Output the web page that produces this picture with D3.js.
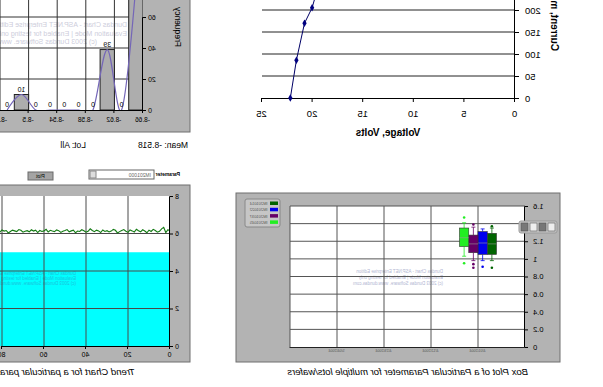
<!DOCTYPE html>
<html>
<head>
<meta charset="utf-8">
<script src="https://cdn.jsdelivr.net/npm/d3@7"></script>
<style>
  body { margin: 0; background: #fff; }
  svg { display: block; }
  text { font-family: "Liberation Sans", Arial, sans-serif; }
</style>
</head>
<body>
<svg id="chart" width="603" height="387"></svg>
<script>
// ---- histogram (top right, mirrored) ----
const histBinStart = [-8.66, -8.64, -8.62, -8.60, -8.58, -8.56, -8.54, -8.52, -8.50, -8.48];
const histCounts = [80, 0, 39, 0, 0, 0, 0, 0, 10, 0];
const histXTicks = [-8.66, -8.62, -8.58, -8.54, -8.5, -8.46];
const histYTicks = [0, 20, 40, 60];
const histMean = 'Mean: -8.518';
const histLot = 'Lot: All';

// ---- IV curve ----
const ivVolts = [22.2, 21.6, 20.8, 20.05, 19.3];
const ivCurrent = [0, 86, 170, 205, 265];
const ivXTicks = [0, 5, 10, 15, 20, 25];
const ivYTicks = [0, 50, 100, 150, 200, 250, 300];

// ---- trend chart ----
const trendValues = [6.14, 6.20, 6.05, 6.33, 6.25, 6.12, 6.07, 6.16, 6.22, 6.11, 6.18, 6.04, 6.13, 6.20, 6.09,
  6.15, 6.23, 6.08, 6.14, 6.19, 6.06, 6.12, 6.21, 6.16, 6.10, 6.03, 6.17, 6.22, 6.13, 6.08, 6.15, 6.11,
  6.19, 6.05, 6.14, 6.18, 6.10, 6.16, 6.25, 6.12, 6.07, 6.15, 6.20, 6.11, 6.13, 6.04, 6.18, 6.14, 6.09,
  6.21, 6.16, 6.12, 6.06, 6.15, 6.19, 6.10, 6.13, 6.17, 6.08, 6.22, 6.14, 6.11, 6.16, 6.05, 6.18, 6.13,
  6.20, 6.09, 6.15, 6.12, 6.07, 6.17, 6.21, 6.10, 6.14, 6.18, 6.11, 6.03, 6.16, 6.13, 6.19, 6.08, 6.15,
  6.12, 6.20, 6.10, 6.17, 6.06, 6.14, 6.18];
const trendLimit = 5;
const trendXTicks = [0, 20, 40, 60, 80];
const trendYTicks = [0, 2, 4, 6, 8];

// ---- box plot ----
const boxLots = ['IM201014', 'IM201022', 'IM201037', 'IM201045'];
const boxColors = ['#006400', '#0000ee', '#660066', '#22ee22'];
const boxLow = [0.98, 0.98, 0.98, 1.03];
const boxQ1 = [1.05, 1.05, 1.07, 1.14];
const boxMedian = [1.17, 1.18, 1.17, 1.24];
const boxQ3 = [1.29, 1.31, 1.27, 1.35];
const boxHigh = [1.35, 1.34, 1.36, 1.41];
const boxOutliers = [[1.37, 0.90], [0.91], [1.39, 0.94, 0.90], [1.47, 0.95]];
const boxXLabels = ['4/01/2004', '4/12/2004', '4/23/2004', '5/04/2004'];
const boxYTicks = [0, 0.2, 0.4, 0.6, 0.8, 1, 1.2, 1.4, 1.6];

const watermark = ['Dundas Chart - ASP.NET Enterprise Edition', 'Evaluation Mode | Enabled for testing only', '(c) 2003 Dundas Software. www.dundas.com'];

const panelGray = '#b3b3b3';
const svg = d3.select('#chart');
svg.append('rect').attr('width', 603).attr('height', 387).attr('fill', '#fff');
// the whole collage is a mirrored screenshot
const root = svg.append('g').attr('transform', 'translate(603,0) scale(-1,1)');
const defs = svg.append('defs');

function styleAxis(g, size, color) {
  g.selectAll('text').style('font-size', size + 'px').attr('fill', color || '#000');
  g.selectAll('line,path').attr('stroke', color || '#000');
}

// ================= histogram =================
(function() {
  const x = d3.scaleLinear().domain([-8.66, -8.46]).range([460, 603]);
  const y = d3.scaleLinear().domain([0, 60]).range([110, 17]);
  const g = root.append('g');
  g.append('rect').attr('x', 413).attr('y', -5).attr('width', 200).attr('height', 137)
    .attr('fill', panelGray).attr('stroke', '#6f6f6f');
  g.append('rect').attr('x', 460).attr('y', -5).attr('width', 150).attr('height', 115).attr('fill', '#fff');
  defs.append('clipPath').attr('id', 'hclip').append('rect')
    .attr('x', 460).attr('y', -5).attr('width', 150).attr('height', 115);

  // watermark
  watermark.forEach((t, i) => g.append('text').attr('x', i === 2 ? 506 : 476).attr('y', 27 + i * 8.5)
    .style('font-size', '7px').attr('fill', '#cdcddb').text(t));

  const grid = g.append('g').attr('stroke', '#333').attr('stroke-width', 1);
  [20, 40, 60, 80].forEach(v => grid.append('line').attr('x1', 460).attr('x2', 610)
    .attr('y1', y(v)).attr('y2', y(v)));
  histXTicks.slice(1).forEach(v => grid.append('line').attr('x1', x(v)).attr('x2', x(v))
    .attr('y1', -5).attr('y2', 110));

  const w = x(-8.64) - x(-8.66);
  const bars = g.append('g').attr('clip-path', 'url(#hclip)');
  histBinStart.forEach((b, i) => {
    if (histCounts[i] > 0) {
      bars.append('rect').attr('x', x(b)).attr('y', y(histCounts[i])).attr('width', w)
        .attr('height', y(0) - y(histCounts[i])).attr('fill', '#adadad').attr('stroke', '#222');
    }
  });
  const line = d3.line().x((d, i) => x(histBinStart[i] + 0.01)).y(d => y(d)).curve(d3.curveCatmullRom.alpha(0));
  bars.append('path').attr('d', line(histCounts)).attr('fill', 'none')
    .attr('stroke', '#7466b8').attr('stroke-width', 1.2);
  histBinStart.forEach((b, i) => {
    g.append('text').attr('x', x(b + 0.01)).attr('y', y(histCounts[i]) - 3)
      .attr('text-anchor', 'middle').style('font-size', '7px').text(histCounts[i]);
  });

  const ay = g.append('g').attr('transform', 'translate(460,0)')
    .call(d3.axisLeft(y).tickValues(histYTicks).tickSize(3).tickPadding(2));
  styleAxis(ay, 7);
  const ax = g.append('g').attr('transform', 'translate(0,110)')
    .call(d3.axisBottom(x).tickValues(histXTicks).tickFormat(d => String(d)).tickSize(3).tickPadding(4));
  styleAxis(ax, 6.5);

  g.append('text').attr('transform', 'translate(428,27) rotate(-90)').attr('text-anchor', 'middle')
    .style('font-size', '8.5px').text('Frequency');
  root.append('text').attr('x', 415).attr('y', 148).style('font-size', '8.5px').text(histMean);
  root.append('text').attr('x', 517).attr('y', 148).style('font-size', '8.5px').text(histLot);
})();

// ================= IV curve =================
(function() {
  const x = d3.scaleLinear().domain([0, 25]).range([88, 341]);
  const y = d3.scaleLinear().domain([0, 300]).range([98, -34]);
  const g = root.append('g');
  ivYTicks.slice(1).forEach(v => g.append('line').attr('x1', 88).attr('x2', 341)
    .attr('y1', y(v)).attr('y2', y(v)).attr('stroke', '#222').attr('stroke-width', 1));
  const ay = g.append('g').attr('transform', 'translate(88,0)')
    .call(d3.axisLeft(y).tickValues(ivYTicks).tickSize(4).tickPadding(6));
  styleAxis(ay, 9.5);
  const ax = g.append('g').attr('transform', 'translate(0,98)')
    .call(d3.axisBottom(x).tickValues(ivXTicks).tickSize(4).tickPadding(8));
  styleAxis(ax, 9.5);

  const pts = ivVolts.map((v, i) => [v, ivCurrent[i]]);
  g.append('path').attr('d', d3.line().x(d => x(d[0])).y(d => y(d[1]))(pts))
    .attr('fill', 'none').attr('stroke', '#000066').attr('stroke-width', 1);
  g.selectAll('.mk').data(pts).join('path')
    .attr('transform', d => `translate(${x(d[0])},${y(d[1])})`)
    .attr('d', d3.symbol(d3.symbolDiamond, 16)).attr('fill', '#000080');

  g.append('text').attr('x', 215).attr('y', 136).attr('text-anchor', 'middle')
    .style('font-size', '10px').style('font-weight', 'bold').text('Voltage, Volts');
  g.append('text').attr('transform', 'translate(52,22) rotate(-90)').attr('text-anchor', 'middle')
    .style('font-size', '10px').style('font-weight', 'bold').text('Current, mA');
})();

// ================= trend chart =================
(function() {
  const x = d3.scaleLinear().domain([0, 80]).range([433, 601]);
  const y = d3.scaleLinear().domain([0, 8]).range([346, 196]);
  const g = root.append('g');
  g.append('rect').attr('x', 413).attr('y', 185).attr('width', 200).attr('height', 177)
    .attr('fill', panelGray).attr('stroke', '#6f6f6f');
  g.append('rect').attr('x', 433).attr('y', 196).attr('width', 180).attr('height', 150)
    .attr('fill', '#fff');
  g.append('rect').attr('x', 433).attr('y', y(trendLimit)).attr('width', 180)
    .attr('height', y(0) - y(trendLimit)).attr('fill', '#00ffff');
  watermark.forEach((t, i) => g.append('text').attr('x', 527).attr('y', 275 + i * 5)
    .style('font-size', '4.5px').attr('fill', '#1cc4dc').text(t));

  const grid = g.append('g').attr('stroke', '#4a4a4a').attr('stroke-width', 1);
  [2, 4, 6].forEach(v => grid.append('line').attr('x1', 433).attr('x2', 613)
    .attr('y1', y(v)).attr('y2', y(v)));
  trendXTicks.slice(1).forEach(v => grid.append('line').attr('x1', x(v)).attr('x2', x(v))
    .attr('y1', 196).attr('y2', 346));

  g.append('path').attr('d', d3.line().x((d, i) => x(i)).y(d => y(d))(trendValues))
    .attr('fill', 'none').attr('stroke', '#127a12').attr('stroke-width', 1.1);

  const ay = g.append('g').attr('transform', 'translate(433,0)')
    .call(d3.axisLeft(y).tickValues(trendYTicks).tickSize(3).tickPadding(2));
  styleAxis(ay, 7);
  const ax = g.append('g').attr('transform', 'translate(0,346)')
    .call(d3.axisBottom(x).tickValues(trendXTicks).tickSize(3).tickPadding(3));
  styleAxis(ax, 7);

  // header controls
  g.append('text').attr('x', 423).attr('y', 176).style('font-size', '5px')
    .style('font-weight', 'bold').text('Parameter');
  g.append('rect').attr('x', 449).attr('y', 170).attr('width', 65).attr('height', 9)
    .attr('fill', '#fff').attr('stroke', '#666');
  g.append('rect').attr('x', 507).attr('y', 171).attr('width', 6).attr('height', 7)
    .attr('fill', '#ddd').attr('stroke', '#888');
  g.append('text').attr('x', 452).attr('y', 176.5).style('font-size', '5px').attr('fill', '#666').text('IM201000');
  g.append('rect').attr('x', 550).attr('y', 172).attr('width', 25).attr('height', 8)
    .attr('fill', '#a4a4a4').attr('stroke', '#6a6a6a');
  g.append('text').attr('x', 562.5).attr('y', 178).attr('text-anchor', 'middle')
    .style('font-size', '5px').text('Plot');

  root.append('text').attr('x', 468).attr('y', 375).style('font-size', '9.5px')
    .style('font-style', 'italic').text('Trend Chart for a particular parameter');
})();

// ================= box plot =================
(function() {
  const x = d3.scaleLinear().domain([0, 5]).range([78, 313]);
  const y = d3.scaleLinear().domain([0, 1.6]).range([347, 206]);
  const g = root.append('g');
  g.append('rect').attr('x', 43).attr('y', 193).attr('width', 324).attr('height', 169)
    .attr('fill', panelGray).attr('stroke', '#6f6f6f');
  g.append('rect').attr('x', 78).attr('y', 206).attr('width', 235).attr('height', 141).attr('fill', '#fff');
  watermark.forEach((t, i) => g.append('text').attr('x', 160).attr('y', 273 + i * 6)
    .style('font-size', '4.5px').attr('fill', '#b2b6d2').text(t));

  const grid = g.append('g').attr('stroke', '#555').attr('stroke-width', 1);
  boxYTicks.slice(1).forEach(v => grid.append('line').attr('x1', 78).attr('x2', 313)
    .attr('y1', y(v)).attr('y2', y(v)));
  [1, 2, 3, 4, 5].forEach(v => grid.append('line').attr('x1', x(v)).attr('x2', x(v))
    .attr('y1', 206).attr('y2', 347));

  const band = d3.scaleBand().domain(boxLots).range([x(1) - 18.5, x(1) + 18.5]);
  boxLots.forEach((lot, i) => {
    const bx0 = band(lot), bw = band.bandwidth(), cx = bx0 + bw / 2, c = boxColors[i];
    const wg = g.append('g').attr('stroke', c).attr('stroke-width', 0.8);
    wg.append('line').attr('x1', cx).attr('x2', cx).attr('y1', y(boxHigh[i])).attr('y2', y(boxQ3[i]));
    wg.append('line').attr('x1', cx).attr('x2', cx).attr('y1', y(boxQ1[i])).attr('y2', y(boxLow[i]));
    wg.append('line').attr('x1', cx - 2).attr('x2', cx + 2).attr('y1', y(boxHigh[i])).attr('y2', y(boxHigh[i]));
    wg.append('line').attr('x1', cx - 2).attr('x2', cx + 2).attr('y1', y(boxLow[i])).attr('y2', y(boxLow[i]));
    g.append('rect').attr('x', bx0).attr('y', y(boxQ3[i])).attr('width', bw)
      .attr('height', y(boxQ1[i]) - y(boxQ3[i])).attr('fill', c).attr('stroke', '#333').attr('stroke-width', 0.6);
    g.append('line').attr('x1', bx0).attr('x2', bx0 + bw).attr('y1', y(boxMedian[i])).attr('y2', y(boxMedian[i]))
      .attr('stroke', '#999').attr('stroke-width', 0.6);
    boxOutliers[i].forEach(o => g.append('circle').attr('cx', cx).attr('cy', y(o)).attr('r', 1.3).attr('fill', c));
  });

  const ay = g.append('g').attr('transform', 'translate(78,0)')
    .call(d3.axisLeft(y).tickValues(boxYTicks).tickFormat(d => String(+d.toFixed(1))).tickSize(3).tickPadding(5));
  styleAxis(ay, 7.5);
  const ax = g.append('g').attr('transform', 'translate(0,347)')
    .call(d3.axisBottom(x).tickValues([1, 2, 3, 4]).tickFormat((d, i) => boxXLabels[i]).tickSize(0).tickPadding(2));
  styleAxis(ax, 3.6, '#555');
  ax.select('.domain').attr('stroke', '#222');

  // legend
  g.append('rect').attr('x', 323).attr('y', 199).attr('width', 35).attr('height', 28).attr('rx', 2)
    .attr('fill', '#c6c6c6').attr('stroke', '#888');
  boxLots.forEach((lot, i) => {
    g.append('rect').attr('x', 325).attr('y', 201.5 + i * 6.3).attr('width', 8).attr('height', 3.5).attr('fill', boxColors[i]);
    g.append('text').attr('x', 335.5).attr('y', 205 + i * 6.3).style('font-size', '4px').attr('fill', '#555').text(lot);
  });

  // toolbar
  g.append('rect').attr('x', 46).attr('y', 221).attr('width', 38).attr('height', 12).attr('rx', 2)
    .attr('fill', '#c9c9c9').attr('stroke', '#999');
  [48, 57, 66, 75].forEach((ix, k) => {
    g.append('rect').attr('x', ix).attr('y', 223).attr('width', 7).attr('height', 8)
      .attr('fill', k % 2 ? '#777' : '#eee').attr('stroke', '#555').attr('stroke-width', 0.6);
  });

  root.append('text').attr('x', 75).attr('y', 375).style('font-size', '9.5px').style('font-style', 'italic')
    .text('Box Plot of a Particular Parameter for multiple lots/wafers');
})();
</script>
</body>
</html>
